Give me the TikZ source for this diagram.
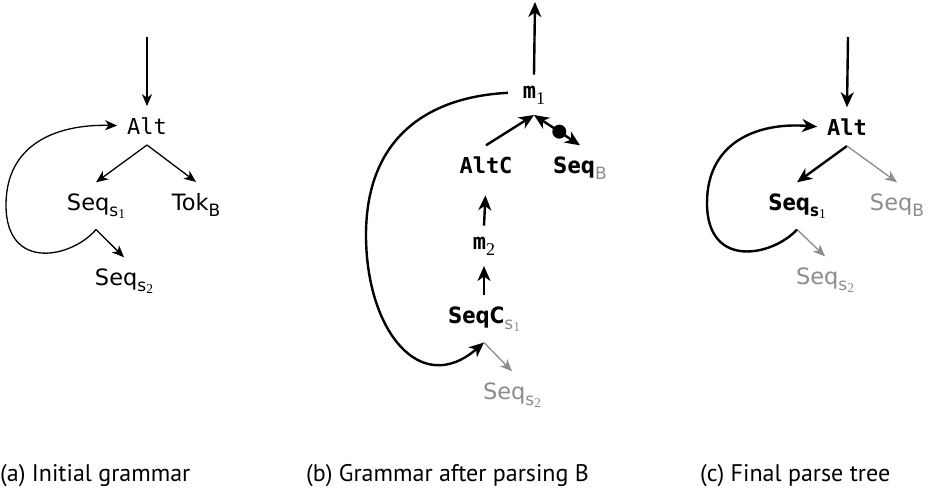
\documentclass[tikz,border=0pt]{standalone}
\usepackage{fontspec}
\usetikzlibrary{arrows.meta,calc}
\setmainfont{PT Sans}
\newfontfamily\monofnt{DejaVu Sans Mono}
\newfontfamily\sansfnt{DejaVu Sans}
\newfontfamily\sansbf{DejaVu Sans}[FakeStretch=0.88]
\newfontfamily\digitfnt{Liberation Serif}
\newfontfamily\capfnt{PT Sans}
\definecolor{txtgray}{gray}{0.55}

% subscript helpers: lowered, smaller text; nested digit for s-indices
\newcommand{\lowsub}[1]{\raisebox{-6pt}{\fontsize{17}{17}\selectfont #1}}
\newcommand{\dig}[1]{{\digitfnt\fontsize{18}{18}\selectfont #1}}
\newcommand{\subdig}[1]{\raisebox{-2.5pt}{\digitfnt\mdseries\fontsize{13.5}{13.5}\selectfont #1}}

\tikzset{
  lbl/.style={inner sep=0pt, outer xsep=10pt, outer ysep=11pt, anchor=base,
              font=\fontsize{22}{22}\selectfont},
  mono/.style={lbl, font=\fontsize{22}{22}\selectfont\monofnt},
  monobf/.style={lbl, font=\fontsize{22}{22}\selectfont\monofnt\bfseries},
  sans/.style={lbl, font=\fontsize{22.5}{22}\selectfont\sansfnt},
  sansbold/.style={lbl, font=\fontsize{22.5}{22}\selectfont\sansbf\bfseries},
  faded/.style={sans, text=txtgray},
  caption/.style={inner sep=0pt, anchor=base west,
                  font=\fontsize{24}{24}\selectfont\capfnt},
  thinarr/.style={-{Stealth[length=12pt,width=10pt,inset=3.5pt]}, line width=1.3pt},
  boldarr/.style={-{Stealth[length=15pt,width=13pt,inset=4.5pt]}, line width=2.4pt},
  grayarr/.style={thinarr, draw=txtgray},
  dot/.style={circle, fill=black, inner sep=0pt, minimum size=14pt}
}

\begin{document}
\begin{tikzpicture}[x=1pt, y=-1pt]
\path[use as bounding box] (0,0) rectangle (928,493);

% ---------- (a) initial grammar ----------
\coordinate (aIn) at (147,37);
\node[mono] (aAlt) at (147,134) {Alt};
\node[sans] (aS1) at (96,210) {Seq\lowsub{s\subdig{1}}};
\node[sans] (aTok) at (196,210) {Tok\lowsub{B}};
\node[sans] (aS2) at (124,285) {Seq\lowsub{s\subdig{2}}};

\draw[thinarr] (aIn) -- (aAlt.north);
\draw[thinarr] (aAlt.south) -- (aS1.north);
\draw[thinarr] (aAlt.south) -- (aTok.north);
\draw[thinarr] (aS1.south) -- (aS2.north);
\draw[thinarr] (aS1.south) .. controls (72,258) and (6,272) .. (6,205)
                           .. controls (6,145) and (55,124) .. (aAlt.west);

% ---------- (b) grammar after parsing B ----------
\coordinate (bOut) at (535,2);
\node[monobf] (bm1) at (534,98) {m\lowsub{\mdseries\dig{1}}};
\node[monobf] (bAltC) at (486,173) {AltC};
\node[sansbold] (bSB) at (580,173) {Seq\lowsub{\mdseries\sansfnt\textcolor{txtgray}{B}}};
\node[monobf] (bm2) at (484,249) {m\lowsub{\mdseries\dig{2}}};
\node[sansbold] (bSC) at (484,323) {SeqC\lowsub{\mdseries\sansfnt\textcolor{txtgray}{s\subdig{1}}}};
\node[faded] (bS2) at (512,399) {Seq\lowsub{s\subdig{2}}};

\draw[boldarr] (bm1.north) -- (bOut);
\draw[boldarr] (bAltC.north) -- (bm1.south);
\draw[boldarr, {Stealth[length=15pt,width=13pt,inset=4.5pt]}-{Stealth[length=15pt,width=13pt,inset=4.5pt]}]
  (bm1.south) -- node[dot, pos=0.55] (bDot) {} (bSB.north);
\draw[boldarr, shorten >=11pt] (bm2.north) -- (bAltC.south);
\draw[boldarr] (bSC.north) -- (bm2.south);
\draw[grayarr] (bSC.south) -- (bS2.north);
\draw[boldarr] ($(bm1.west)+(-5,-2)$) .. controls (425,97) and (366,140) .. (366,235)
               .. controls (366,330) and (420,398) .. (bSC.south);

% ---------- (c) final parse tree ----------
\coordinate (cIn) at (848,37);
\node[monobf] (cAlt) at (847,135) {Alt};
\node[sansbold] (cS1) at (797,210) {Seq\lowsub{s\subdig{1}}};
\node[faded] (cSB) at (897,210) {Seq\lowsub{B}};
\node[faded] (cS2) at (825,284) {Seq\lowsub{s\subdig{2}}};

\draw[boldarr] (cIn) -- (cAlt.north);
\draw[boldarr] (cAlt.south) -- (cS1.north);
\draw[grayarr] (cAlt.south) -- (cSB.north);
\draw[grayarr] (cS1.south) -- (cS2.north);
\draw[boldarr] (cS1.south) .. controls (773,256) and (707,270) .. (707,203)
                           .. controls (707,143) and (756,122) .. (cAlt.west);

% ---------- captions ----------
\node[caption] (capA) at (0,481) {(a) Initial grammar};
\node[caption] (capB) at (306,481) {(b) Grammar after parsing B};
\node[caption] (capC) at (700,481) {(c) Final parse tree};
\end{tikzpicture}
\end{document}
